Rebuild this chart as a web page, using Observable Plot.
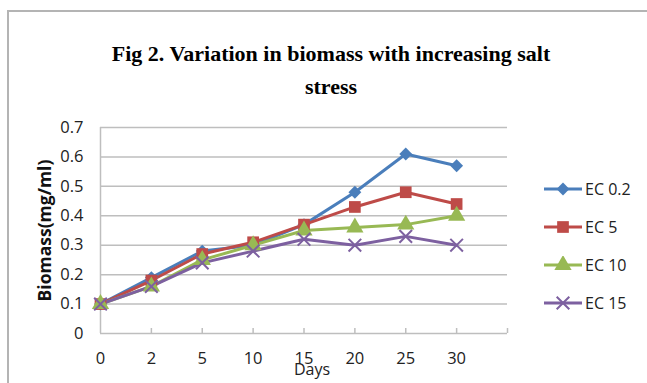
<!DOCTYPE html>
<html><head><meta charset="utf-8">
<script src="https://cdn.jsdelivr.net/npm/d3@7"></script>
<script src="https://cdn.jsdelivr.net/npm/@observablehq/plot@0.6"></script>
<style>
body{margin:0;background:#fff;}
#wrap{position:relative;width:647px;height:383px;overflow:hidden;font-family:"Open Sans",sans-serif;}
#wrap svg.plot{position:absolute;left:0;top:0;}
#frame{position:absolute;left:7px;top:10px;width:700px;height:500px;border:2px solid #b4b4b4;box-sizing:border-box;}
#title{position:absolute;left:0;width:662px;top:37px;text-align:center;font:bold 22px "Liberation Serif",serif;line-height:33px;color:#000;}
#legend{position:absolute;left:543px;top:170px;}
.row{height:38px;display:flex;align-items:center;font-size:16px;color:#222;}
.row svg{margin-right:2px;}
</style>
</head><body>
<div id="wrap">
  <div id="frame"></div>
  <div id="title">Fig 2. Variation in biomass with increasing salt<br>stress</div>
  <div id="legend"></div>
</div>
<script>
const days = ["0","2","5","10","15","20","25","30"];
const seriesNames = ["EC 0.2","EC 5","EC 10","EC 15"];
const ec02 = [0.10,0.19,0.28,0.30,0.37,0.48,0.61,0.57];
const ec5  = [0.10,0.18,0.27,0.31,0.37,0.43,0.48,0.44];
const ec10 = [0.10,0.16,0.25,0.30,0.35,0.36,0.37,0.40];
const ec15 = [0.10,0.16,0.24,0.28,0.32,0.30,0.33,0.30];
const yTicks = [0,0.1,0.2,0.3,0.4,0.5,0.6,0.7];
const colors = ["#4A7EBB","#BE4B48","#98B954","#7D60A0"];
const symbols = ["diamond2","square","triangle","times"];
const radii = [5.8,6.6,6.4,5.8];

const seriesValues = [ec02, ec5, ec10, ec15];
const rows = [];
seriesValues.forEach((vals, s) => vals.forEach((v, i) => rows.push({i, day: days[i], v, s: seriesNames[s]})));

const gridGrey = "#bebebe";
const marks = [
  Plot.gridY(yTicks.filter(d => d > 0), {stroke: gridGrey, strokeOpacity: 1, strokeWidth: 1.5}),
  Plot.ruleY([0], {stroke: gridGrey, strokeWidth: 1.5}),
  Plot.ruleX([0], {stroke: gridGrey, strokeWidth: 1.5}),
  Plot.axisY({ticks: yTicks, tickSize: 0, tickPadding: 17, tickFormat: d => d === 0 ? "0" : d.toFixed(1), fontSize: 16.5, label: null}),
  Plot.axisX({ticks: d3.range(days.length), tickSize: 0, tickPadding: 19, tickFormat: i => days[i], fontSize: 16.5, label: null}),
  Plot.axisX({ticks: d3.range(1, days.length + 1), tickSize: -5, tickFormat: () => "", label: null, stroke: gridGrey, strokeWidth: 1.5}),
  Plot.text(["Biomass(mg/ml)"], {frameAnchor: "left", textAnchor: "middle", rotate: -90, dx: -55, fontWeight: "bold", fontSize: 17.5, fill: "#111"}),
  Plot.text(["Days"], {frameAnchor: "bottom", dy: 41, dx: 8, fontSize: 16, fill: "#222"}),
  Plot.line(rows, {x: "i", y: "v", z: "s", stroke: "s", strokeWidth: 3, curve: "linear"})
];
seriesNames.forEach((name, k) => {
  const data = rows.filter(r => r.s === name);
  const isStroke = symbols[k] === "times";
  marks.push(Plot.dot(data, {x: "i", y: "v", symbol: () => symbols[k], r: radii[k],
    fill: isStroke ? "none" : colors[k], stroke: isStroke ? colors[k] : "none", strokeWidth: isStroke ? 2 : 0}));
});

const chart = Plot.plot({
  width: 647, height: 383,
  marginLeft: 100, marginRight: 140, marginTop: 127, marginBottom: 50,
  style: {background: "transparent", fontFamily: "Open Sans, sans-serif", color: "#222"},
  x: {domain: [0, days.length], axis: null},
  y: {domain: [0, 0.7], axis: null},
  color: {domain: seriesNames, range: colors},
  symbol: {domain: symbols, range: symbols},
  marks
});
document.getElementById("wrap").appendChild(chart);

// legend
const legend = d3.select("#legend");
seriesNames.forEach((name, k) => {
  const row = legend.append("div").attr("class", "row");
  const svg = row.append("svg").attr("width", 40).attr("height", 18);
  svg.append("line").attr("x1", 1).attr("x2", 39).attr("y1", 9).attr("y2", 9)
    .attr("stroke", colors[k]).attr("stroke-width", 3);
  const symMap = {diamond2: d3.symbolDiamond2, square: d3.symbolSquare, triangle: d3.symbolTriangle, times: d3.symbolTimes};
  const size = Math.PI * radii[k] * radii[k];
  const isStroke = symbols[k] === "times";
  svg.append("path").attr("transform", "translate(20,9)")
    .attr("d", d3.symbol(symMap[symbols[k]], size)())
    .attr("fill", isStroke ? "none" : colors[k])
    .attr("stroke", isStroke ? colors[k] : "none")
    .attr("stroke-width", 2);
  row.append("span").text(name);
});
</script>
</body></html>
